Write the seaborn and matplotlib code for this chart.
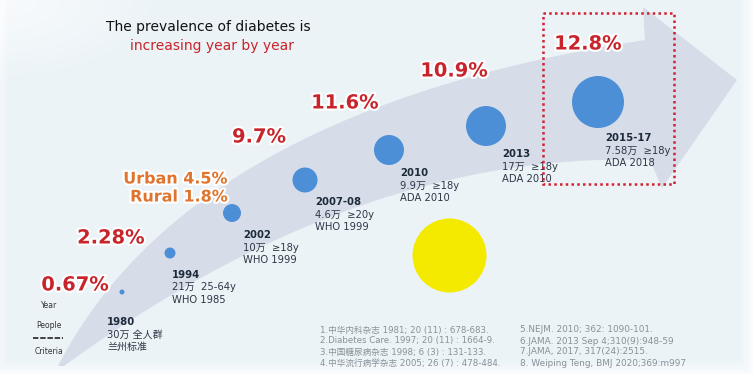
import numpy as np
import pandas as pd
import matplotlib
matplotlib.use("Agg")
import matplotlib.pyplot as plt
import matplotlib.patheffects as pe
from matplotlib.patches import Polygon, Rectangle
import seaborn as sns

# ---------------- data ----------------
years = ['1980', '1994', '2002', '2007-08', '2010', '2013', '2015-17']
prevalence = ['0.67%', '2.28%', '', '9.7%', '11.6%', '10.9%', '12.8%']
urban_rural = ['Urban 4.5%', 'Rural 1.8%']
samples = ['30万 全人群', '21万  25-64y', '10万  ≥18y', '4.6万  ≥20y',
           '9.9万  ≥18y', '17万  ≥18y', '7.58万  ≥18y']
criteria = ['兰州标准', 'WHO 1985', 'WHO 1999', 'WHO 1999',
            'ADA 2010', 'ADA 2010', 'ADA 2018']
row_labels = ['Year', 'People', 'Criteria']
title_lines = ['The prevalence of diabetes is', 'increasing year by year']
refs_left = ['1.中华内科杂志 1981; 20 (11) : 678-683.',
             '2.Diabetes Care. 1997; 20 (11) : 1664-9.',
             '3.中国糖尿病杂志 1998; 6 (3) : 131-133.',
             '4.中华流行病学杂志 2005; 26 (7) : 478-484.']
refs_right = ['5.NEJM. 2010; 362: 1090-101.',
              '6.JAMA. 2013 Sep 4;310(9):948-59',
              '7.JAMA, 2017, 317(24):2515.',
              '8. Weiping Teng, BMJ 2020;369:m997']

# ---------------- layout (pixels) ----------------
bubble_x = [122, 170, 232, 305, 389, 486, 598]
bubble_y = [292, 253, 213, 180, 150, 126, 102]
bubble_r = [2.5, 5.5, 9, 12.5, 15, 20, 26]
label_x = [107, 172, 243, 315, 400, 502, 605]
label_y = [322, 275, 235, 202, 173, 154, 138]
pct_xy = [(75, 285), (111, 238), None, (259, 137), (345, 103), (454, 71), (588, 44)]

CJK = ['DejaVu Sans', 'Noto Sans CJK SC']
RED = '#c8242b'
ORANGE = '#e0742e'
BLUE = '#4d8fd7'

fig = plt.figure(figsize=(7.53, 3.74), dpi=100)
ax = fig.add_axes([0, 0, 1, 1])

# background gradient
H, W = 374, 753
yy, xx = np.mgrid[0:H, 0:W]
d = np.minimum.reduce([xx / 15.0 + 0.5, (W - xx) / 15.0, (H - yy) / 15.0, yy / 20.0 + 1])
d = np.clip(d, 0, 1)
corner = np.clip(1 - np.hypot(xx / 160.0, yy / 80.0), 0, 1)
base = np.array([0.925, 0.955, 0.972])
white = np.array([0.985, 0.99, 0.995])
w = np.clip(1 - d + corner * 0.8, 0, 1)[..., None]
img = base * (1 - w) + white * w
ax.imshow(img, extent=(0, W, H, 0), zorder=0, aspect='auto')

# curved arrow band
def bez(p0, p1, p2, n=80):
    t = np.linspace(0, 1, n)[:, None]
    return (1 - t) ** 2 * np.array(p0) + 2 * (1 - t) * t * np.array(p1) + t ** 2 * np.array(p2)

upper = bez((58, 366), (190, 110), (645, 40))
lower = bez((650, 160), (360, 150), (64, 366))
pts = np.vstack([upper, [(643, 7), (737, 80), (662, 188)], lower])
ax.add_patch(Polygon(pts, closed=True, facecolor='#d6dde9', edgecolor='none', zorder=1))

# bubbles
df = pd.DataFrame({'x': bubble_x, 'y': bubble_y, 'year': years,
                   's': [(2 * r * 72 / 100) ** 2 for r in bubble_r]})
sns.scatterplot(data=df, x='x', y='y', size='year',
                sizes=dict(zip(df['year'], df['s'])), color=BLUE,
                linewidth=0, legend=False, ax=ax, zorder=3)
# yellow circle
sns.scatterplot(x=[449], y=[255], s=(2 * 37 * 72 / 100) ** 2, color='#f3ea00',
                linewidth=0, legend=False, ax=ax, zorder=3)

glow = [pe.withStroke(linewidth=3, foreground='white')]

# title
ax.text(208, 27, title_lines[0], fontsize=10, color='#111111',
        ha='center', va='center', zorder=5)
ax.text(212, 46, title_lines[1], fontsize=10, color=RED,
        ha='center', va='center', zorder=5)

# percentages
for p, xy in zip(prevalence, pct_xy):
    if xy is None:
        continue
    ax.text(xy[0], xy[1], p, fontsize=14, fontweight='bold', color=RED,
            ha='center', va='center', zorder=5, path_effects=glow)
ax.text(228, 179, urban_rural[0], fontsize=11.5, fontweight='bold', color=ORANGE,
        ha='right', va='center', zorder=5, path_effects=glow)
ax.text(228, 197, urban_rural[1], fontsize=11.5, fontweight='bold', color=ORANGE,
        ha='right', va='center', zorder=5, path_effects=glow)

# bubble labels
for yr, sm, cr, lx, ly in zip(years, samples, criteria, label_x, label_y):
    ax.text(lx, ly, yr, fontsize=7.3, fontweight='bold', color='#1d2a3a',
            ha='left', va='center', zorder=5)
    ax.text(lx, ly + 12.5, sm, fontsize=7.2, color='#2e3846', family=CJK,
            ha='left', va='center', zorder=5)
    ax.text(lx, ly + 25, cr, fontsize=7.2, color='#2e3846', family=CJK,
            ha='left', va='center', zorder=5)

# row labels
for lab, yv in zip(row_labels, [305, 325, 352]):
    ax.text(49, yv, lab, fontsize=5.5, color='#333333', ha='center', va='center', zorder=5)
ax.plot([33, 63], [338, 338], color='#333333', lw=1.3, ls=(0, (3, 1)), zorder=5)

# references
for i, r in enumerate(refs_left):
    ax.text(320, 330 + 11 * i, r, fontsize=6.2, color='#8a9098', family=CJK,
            ha='left', va='center', zorder=5)
for i, r in enumerate(refs_right):
    ax.text(520, 330 + 11 * i, r, fontsize=6.4, color='#8a9098', family=CJK,
            ha='left', va='center', zorder=5)

# dotted highlight box
ax.add_patch(Rectangle((543, 13), 131, 171, facecolor='none', edgecolor='#d42030',
                       lw=1.8, ls=(0, (1, 1.3)), zorder=6))

ax.set_xlim(0, W)
ax.set_ylim(H, 0)
ax.axis('off')
fig.savefig('out.png', dpi=100)
